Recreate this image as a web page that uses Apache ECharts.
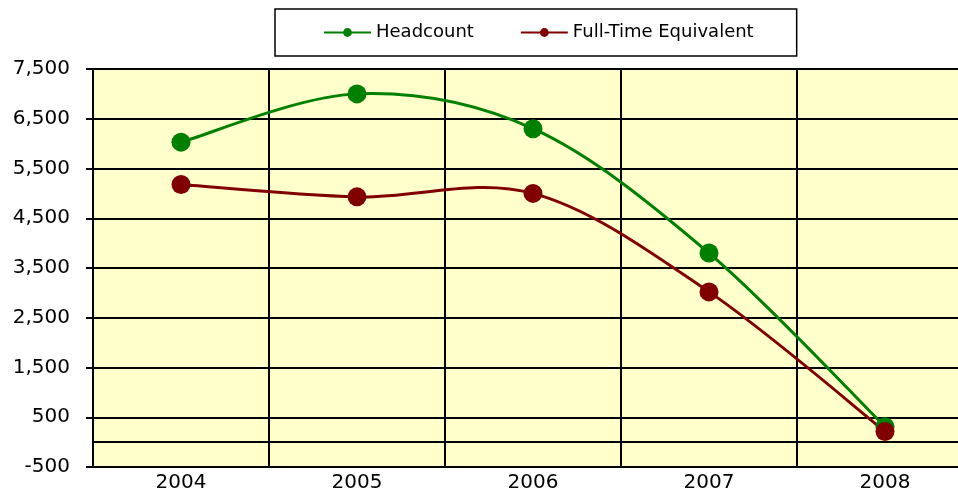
<!DOCTYPE html>
<html>
<head>
<meta charset="utf-8">
<script src="https://cdn.jsdelivr.net/npm/echarts@6/dist/echarts.min.js"></script>
<style>
html,body{margin:0;padding:0;background:#fff;overflow:hidden;}
#chart{width:958px;height:492px;}
</style>
</head>
<body>
<div id="chart"></div>
<script>
const years = ['2004', '2005', '2006', '2007', '2008'];
const headcount = [6030, 7000, 6300, 3800, 310];
const fte = [5180, 4930, 5000, 3020, 215];
const yMin = -500, yMax = 7500, yStep = 1000;

const chart = echarts.init(document.getElementById('chart'), null, {renderer: 'canvas'});
const font = 'DejaVu Sans';

// Excel-style (Catmull-Rom) smoothed curve, drawn through the axes' scales
function curveSeries(name, values, color, z) {
  const n = values.length;
  const clampIdx = k => Math.max(0, Math.min(n - 1, k));
  return {
    type: 'custom', name: name, silent: true, z: z,
    data: values.map((v, i) => [i, v]),
    encode: {x: 0, y: 1},
    renderItem: function (params, api) {
      const i = params.dataIndex;
      if (i >= n - 1) return null;
      const P = k => api.coord([clampIdx(k), values[clampIdx(k)]]);
      const p0 = P(i - 1), p1 = P(i), p2 = P(i + 1), p3 = P(i + 2);
      const t = 1 / 6;
      return {
        type: 'bezierCurve',
        shape: {
          x1: p1[0], y1: p1[1], x2: p2[0], y2: p2[1],
          cpx1: p1[0] + (p2[0] - p0[0]) * t, cpy1: p1[1] + (p2[1] - p0[1]) * t,
          cpx2: p2[0] - (p3[0] - p1[0]) * t, cpy2: p2[1] - (p3[1] - p1[1]) * t
        },
        style: {stroke: color, lineWidth: 3, fill: null, lineCap: 'round'}
      };
    }
  };
}

chart.setOption({
  animation: false,
  backgroundColor: '#ffffff',
  legend: {
    data: ['Headcount', 'Full-Time Equivalent'],
    left: 275,
    top: 9,
    padding: [14, 43, 14, 48],
    itemGap: 46,
    itemWidth: 47,
    itemHeight: 11,
    borderColor: '#000',
    borderWidth: 1.5,
    backgroundColor: '#fff',
    textStyle: {fontFamily: font, fontSize: 18, color: '#000', lineHeight: 19},
    lineStyle: {width: 2, opacity: 1},
    itemStyle: {borderWidth: 0}
  },
  grid: {left: 93, right: -15, top: 69, bottom: 25, outerBoundsMode: 'none',
    containLabel: false,
    show: true, backgroundColor: '#FFFFCC', borderWidth: 0},
  xAxis: {
    type: 'category',
    data: years,
    boundaryGap: true,
    axisLine: {onZero: false, lineStyle: {color: '#000', width: 2}},
    axisTick: {show: false},
    axisLabel: {fontFamily: font, fontSize: 20, color: '#000', margin: 6},
    splitLine: {show: true, lineStyle: {color: '#000', width: 2}}
  },
  yAxis: {
    type: 'value',
    min: yMin, max: yMax, interval: yStep,
    axisLine: {show: true, lineStyle: {color: '#000', width: 2}},
    axisTick: {show: true, length: 7, lineStyle: {color: '#000', width: 2}},
    axisLabel: {fontFamily: font, fontSize: 20, color: '#000', margin: 23,
      formatter: v => v.toLocaleString('en-US')},
    splitLine: {show: true, lineStyle: {color: '#000', width: 2}}
  },
  series: [
    curveSeries('Headcount curve', headcount, '#008000', 2),
    curveSeries('FTE curve', fte, '#800000', 2),
    {
      name: 'Headcount', type: 'line', data: headcount,
      symbol: 'circle', symbolSize: 19,
      color: '#008000',
      lineStyle: {width: 0, color: '#008000', opacity: 0},
      itemStyle: {color: '#008000'},
      z: 3,
      markLine: {
        silent: true, symbol: 'none', label: {show: false},
        lineStyle: {color: '#000', width: 2, type: 'solid'},
        data: [{yAxis: 0}],
        z: 1
      }
    },
    {
      name: 'Full-Time Equivalent', type: 'line', data: fte,
      symbol: 'circle', symbolSize: 19,
      color: '#800000',
      lineStyle: {width: 0, color: '#800000', opacity: 0},
      itemStyle: {color: '#800000'},
      z: 4
    }
  ]
});
</script>
</body>
</html>
